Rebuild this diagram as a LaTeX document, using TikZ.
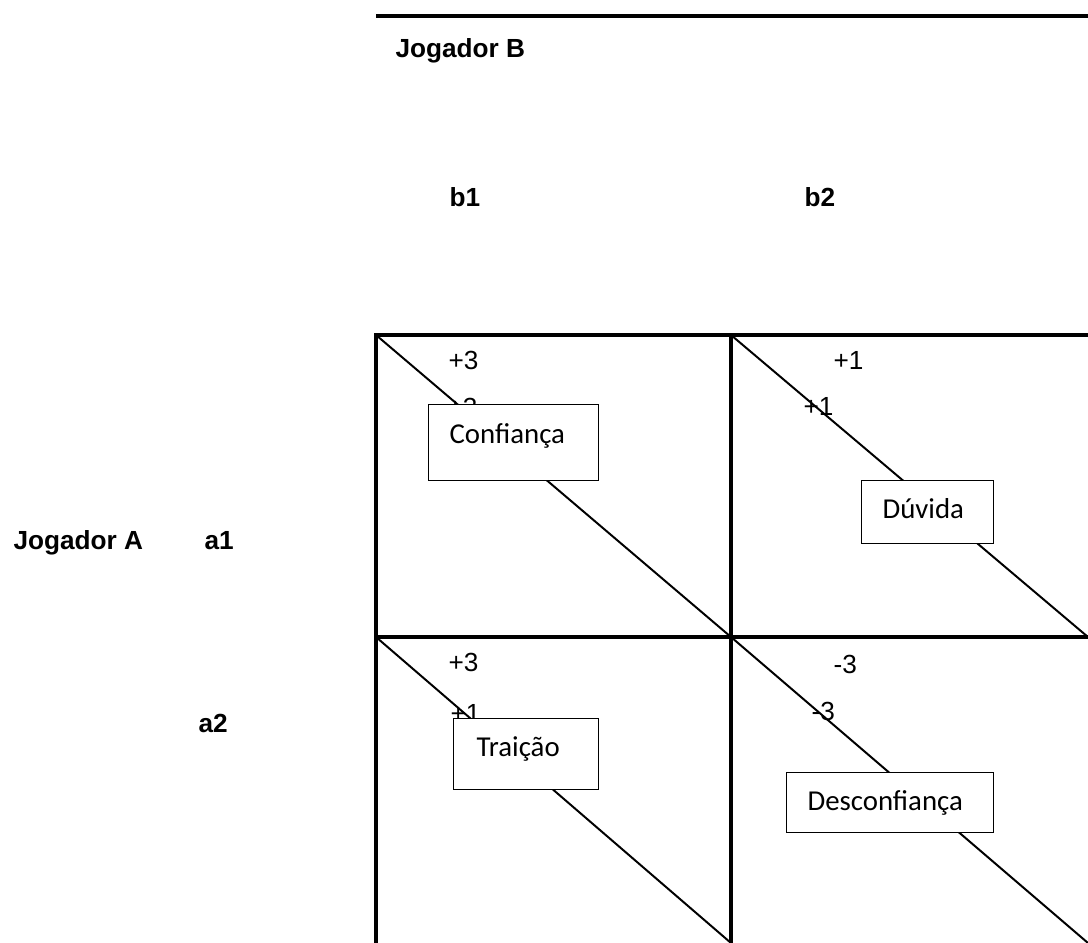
\documentclass[tikz,border=0pt]{standalone}
\usepackage{fontspec}
\setmainfont{Liberation Sans}
\newfontfamily\calibri{Carlito}
\begin{document}
\begin{tikzpicture}[x=0.3817pt, y=-0.3817pt,
  grid/.style={line width=1.2pt, line cap=rect, line join=miter},
  diag/.style={line width=0.75pt},
  topline/.style={line width=1.35pt},
  lbl/.style={font=\fontsize{10}{12}\selectfont\bfseries, anchor=base west, inner sep=0pt},
  num/.style={font=\fontsize{10}{12}\selectfont, anchor=base west, inner sep=0pt},
  pbox/.style={draw, line width=0.45pt, fill=white, inner sep=0pt, anchor=north west,
    align=left, font=\calibri\fontsize{11}{13}\selectfont}]
\useasboundingbox (0,0) rectangle (1088,943);
% coordinates of the table
\coordinate (TL) at (376,335);
\coordinate (TM) at (731,335);
\coordinate (TR) at (1088,335);
\coordinate (ML) at (376,637);
\coordinate (MM) at (731,637);
\coordinate (MR) at (1088,637);
\coordinate (BL) at (376,943);
\coordinate (BM) at (731,943);
\coordinate (BR) at (1088,943);
\coordinate (LineA) at (376,16);
\coordinate (LineB) at (1088,16);
% top rule
\draw[topline] (LineA) -- (LineB);
% headings
\node[lbl] (jb) at (395,57) {Jogador B};
\node[lbl] (b1) at (449,206) {b1};
\node[lbl] (b2) at (804,206) {b2};
\node[lbl] (ja) at (13,549) {Jogador A};
\node[lbl] (a1) at (204,549) {a1};
\node[lbl] (a2) at (198,732) {a2};
% diagonals
\draw[diag] (TL) -- (MM);
\draw[diag] (TM) -- (MR);
\draw[diag] (ML) -- (BM);
\draw[diag] (MM) -- (BR);
% payoffs
\node[num] (p11a) at (448,369) {+3};
\node[num] (p11b) at (447,416) {+3};
\node[num] (p12a) at (833,369) {+1};
\node[num] (p12b) at (803,415) {+1};
\node[num] (p21a) at (448,671) {+3};
\node[num] (p21b) at (450,722) {+1};
\node[num] (p22a) at (833,673) {-3};
\node[num] (p22b) at (811,720) {-3};
% boxes
\node[pbox, text width=64.9pt, text height=14.9pt, text depth=14.1pt] (conf) at (428,404) {\hspace*{8pt}Confiança};
\node[pbox, text width=50.4pt, text height=14.5pt, text depth=9.5pt] (duv) at (861,480) {\hspace*{8pt}Dúvida};
\node[pbox, text width=55.3pt, text height=14.5pt, text depth=12.6pt] (trai) at (453,718) {\hspace*{8.8pt}Traição};
\node[pbox, text width=79.0pt, text height=14.5pt, text depth=8.4pt] (desc) at (786,772) {\hspace*{8pt}Desconfiança};
% grid
\draw[grid] (BL) -- (TL) -- (TR);
\draw[grid] (ML) -- (MR);
\draw[grid] (TM) -- (BM);
\end{tikzpicture}
\end{document}
